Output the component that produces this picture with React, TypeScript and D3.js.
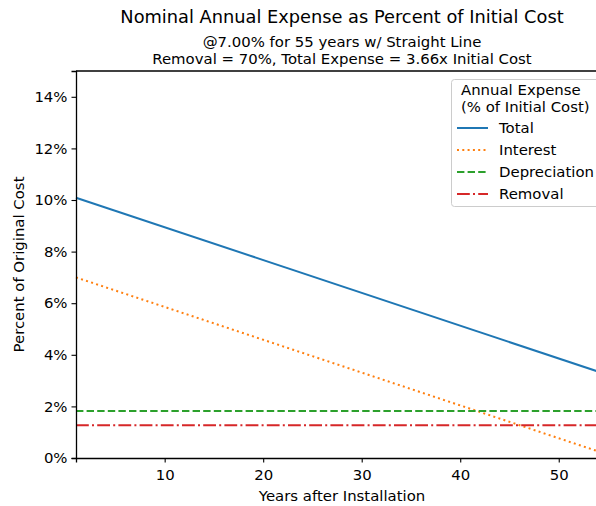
import React, { useEffect, useRef } from 'react';
import * as d3 from 'd3';

// years on the x axis (straight lines, so the ends are enough)
const years = [1, 55];
const totalPct = [10.09, 3.22];
const interestPct = [7.0, 0.13];
const depreciationPct = [1.82, 1.82];
const removalPct = [1.27, 1.27];

const seriesNames = ['Total', 'Interest', 'Depreciation', 'Removal'];
const seriesValues = [totalPct, interestPct, depreciationPct, removalPct];
const seriesColors = ['#1f77b4', '#ff7f0e', '#2ca02c', '#d62728'];
const seriesDash = [null, '2,3.3', '7.4,3.2', '12.8,3.2,2,3.2'];

const xTicks = [10, 20, 30, 40, 50];
const yTicks = [0, 2, 4, 6, 8, 10, 12, 14];

const title = 'Nominal Annual Expense as Percent of Initial Cost';
const subtitle = ['@7.00% for 55 years w/ Straight Line', 'Removal = 70%, Total Expense = 3.66x Initial Cost'];

const App = () => {
  const container = useRef(null);
  const width = 596;
  const height = 506;

  const margins = { l: 76, t: 71, r: -12, b: 48 };
  const plotwidth = width - margins.l - margins.r;
  const plotheight = height - margins.t - margins.b;
  const fs = '14.9px';

  useEffect(() => {
    document.body.style.margin = '0';
    createChart();
  }, []);

  const createChart = () => {
    const svg = d3
      .select(container.current)
      .selectAll('svg')
      .data([0])
      .join('svg')
      .attr('width', width)
      .attr('height', height)
      .style('display', 'block')
      .style('font-family', 'DejaVu Sans, sans-serif');

    svg.selectAll('*').remove();
    svg.append('rect').attr('width', width).attr('height', height).attr('fill', '#fff');

    const xScale = d3.scaleLinear().domain([1, 55]).range([0, plotwidth]);
    const yScale = d3.scaleLinear().domain([0, 15]).range([plotheight, 0]);

    const plotg = svg.append('g').attr('transform', `translate(${margins.l},${margins.t})`);

    const line = d3
      .line()
      .x((d, i) => xScale(years[i]))
      .y(d => yScale(d));

    plotg
      .selectAll('.series-line')
      .data(seriesValues)
      .join('path')
      .attr('class', 'series-line')
      .attr('d', d => line(d))
      .attr('fill', 'none')
      .attr('stroke', (d, i) => seriesColors[i])
      .attr('stroke-width', 2)
      .attr('stroke-dasharray', (d, i) => seriesDash[i]);

    // axes
    const xAxis = d3
      .axisBottom(xScale)
      .tickValues(xTicks)
      .tickSize(4.5)
      .tickPadding(4);
    const yAxis = d3
      .axisLeft(yScale)
      .tickValues(yTicks)
      .tickSize(4.5)
      .tickPadding(4)
      .tickFormat(d => d + '%');

    const xaxisg = plotg
      .append('g')
      .attr('transform', `translate(0,${plotheight})`)
      .call(xAxis);
    const yaxisg = plotg.append('g').call(yAxis);

    [xaxisg, yaxisg].forEach(g => {
      g.select('.domain').attr('stroke', '#000').attr('stroke-width', 1.3);
      g.selectAll('.tick line').attr('stroke', '#000').attr('stroke-width', 1.1);
      g.selectAll('.tick text')
        .attr('fill', '#000')
        .style('font-size', fs)
        .style('font-family', 'DejaVu Sans, sans-serif');
    });
    xaxisg.selectAll('.tick text').attr('dy', '0.9em');

    // top and right spines
    plotg
      .append('line')
      .attr('x1', 0)
      .attr('x2', plotwidth)
      .attr('y1', 0)
      .attr('y2', 0)
      .attr('stroke', '#000')
      .attr('stroke-width', 1.3);
    plotg
      .append('line')
      .attr('x1', plotwidth)
      .attr('x2', plotwidth)
      .attr('y1', 0)
      .attr('y2', plotheight)
      .attr('stroke', '#000')
      .attr('stroke-width', 1.3);

    /* LABELS AND TITLES */
    svg
      .append('text')
      .attr('x', margins.l + plotwidth / 2)
      .attr('y', 23)
      .attr('text-anchor', 'middle')
      .style('font-size', '17.8px')
      .text(title);

    svg
      .selectAll('.subtitle')
      .data(subtitle)
      .join('text')
      .attr('class', 'subtitle')
      .attr('x', margins.l + plotwidth / 2)
      .attr('y', (d, i) => 47 + i * 16.5)
      .attr('text-anchor', 'middle')
      .style('font-size', fs)
      .text(d => d);

    svg
      .append('text')
      .attr('x', margins.l + plotwidth / 2)
      .attr('y', 501)
      .attr('text-anchor', 'middle')
      .style('font-size', fs)
      .text('Years after Installation');

    svg
      .append('text')
      .attr('transform', `translate(24,${margins.t + plotheight / 2})rotate(270)`)
      .attr('text-anchor', 'middle')
      .style('font-size', fs)
      .text('Percent of Original Cost');

    /* LEGEND */
    const legendg = svg.append('g').attr('transform', 'translate(451,79)');
    legendg
      .append('rect')
      .attr('x', 0.5)
      .attr('y', 0.5)
      .attr('width', 160)
      .attr('height', 127)
      .attr('rx', 3)
      .attr('fill', '#fff')
      .attr('fill-opacity', 0.8)
      .attr('stroke', '#cccccc');

    legendg
      .selectAll('.legend-title')
      .data(['Annual Expense', '(% of Initial Cost)'])
      .join('text')
      .attr('class', 'legend-title')
      .attr('x', 10)
      .attr('y', (d, i) => 16 + i * 16.5)
      .style('font-size', fs)
      .text(d => d);

    const items = legendg
      .selectAll('.legend-item')
      .data(seriesNames)
      .join('g')
      .attr('class', 'legend-item')
      .attr('transform', (d, i) => `translate(0,${49 + i * 22})`);

    items
      .append('line')
      .attr('x1', 6)
      .attr('x2', 37)
      .attr('y1', 0)
      .attr('y2', 0)
      .attr('stroke', (d, i) => seriesColors[i])
      .attr('stroke-width', 2)
      .attr('stroke-dasharray', (d, i) => seriesDash[i]);

    items
      .append('text')
      .attr('x', 48)
      .attr('y', 5)
      .style('font-size', fs)
      .text(d => d);
  };

  return <div className="chart-container" ref={container}></div>;
};

export default App;
